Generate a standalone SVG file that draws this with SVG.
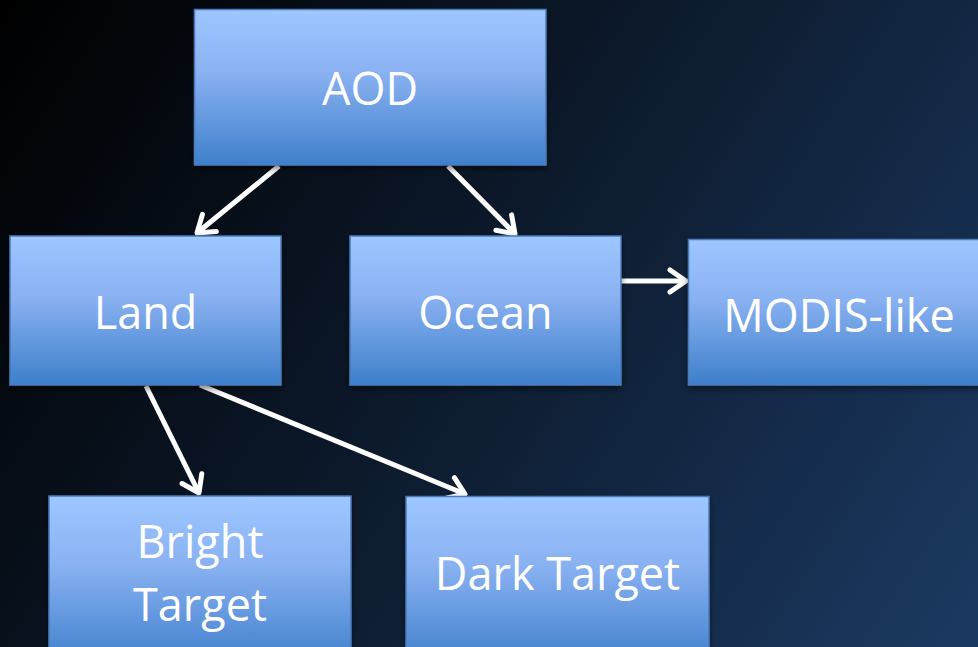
<svg xmlns="http://www.w3.org/2000/svg" width="978" height="647" viewBox="0 0 978 647">
  <defs>
    <linearGradient id="bg" x1="0" y1="0" x2="978" y2="647" gradientUnits="userSpaceOnUse">
      <stop offset="0" stop-color="#000000"/>
      <stop offset="0.5" stop-color="#0d1b2e"/>
      <stop offset="1" stop-color="#1b3a63"/>
    </linearGradient>
    <linearGradient id="box" x1="0" y1="0" x2="0" y2="1">
      <stop offset="0" stop-color="#9ec6ff"/>
      <stop offset="0.4" stop-color="#8ab2f2"/>
      <stop offset="1" stop-color="#3e7fcb"/>
    </linearGradient>
    <filter id="sh" x="-10%" y="-10%" width="120%" height="130%">
      <feDropShadow dx="0" dy="3" stdDeviation="3" flood-color="#000" flood-opacity="0.5"/>
    </filter>
    <marker id="arr" markerUnits="userSpaceOnUse" viewBox="-22 -16 28 32" refX="0" refY="0" markerWidth="28" markerHeight="32" orient="auto">
      <path d="M-16,-11 L0,0 L-16,11" fill="none" stroke="#ffffff" stroke-width="5" stroke-linejoin="round" stroke-linecap="round"/>
    </marker>
    <style>
      .node rect { fill: url(#box); stroke: #4a7bb8; stroke-width: 1.5; filter: url(#sh); }
      .node text { fill: #ffffff; font-family: "Open Sans", "Noto Sans", sans-serif; font-size: 45px; text-anchor: middle; }
      .conn line { stroke: #ffffff; stroke-width: 5; marker-end: url(#arr); }
    </style>
  </defs>
  <rect x="0" y="0" width="978" height="647" fill="url(#bg)"/>

  <g id="connectors" class="conn">
    <line x1="279" y1="166" x2="197" y2="233"/>
    <line x1="448" y1="166" x2="515" y2="234"/>
    <line x1="621" y1="281" x2="686" y2="281"/>
    <line x1="146" y1="386" x2="199" y2="493"/>
    <line x1="200" y1="385" x2="465" y2="494"/>
  </g>

  <g id="node-aod" class="node">
    <rect x="194.5" y="9.5" width="351.5" height="155.5"/>
    <text x="370" y="105">AOD</text>
  </g>
  <g id="node-land" class="node">
    <rect x="10" y="236" width="271" height="149"/>
    <text x="145.5" y="329">Land</text>
  </g>
  <g id="node-ocean" class="node">
    <rect x="350" y="236" width="271" height="149"/>
    <text x="485.5" y="329">Ocean</text>
  </g>
  <g id="node-modis" class="node">
    <rect x="688.5" y="239.5" width="300" height="145.5"/>
    <text x="839" y="332">MODIS-like</text>
  </g>
  <g id="node-bright" class="node">
    <rect x="49" y="496" width="302" height="170"/>
    <text x="200" y="558">Bright</text>
    <text x="200" y="621">Target</text>
  </g>
  <g id="node-dark" class="node">
    <rect x="406" y="496.5" width="303" height="170"/>
    <text x="557.5" y="590">Dark Target</text>
  </g>
</svg>
